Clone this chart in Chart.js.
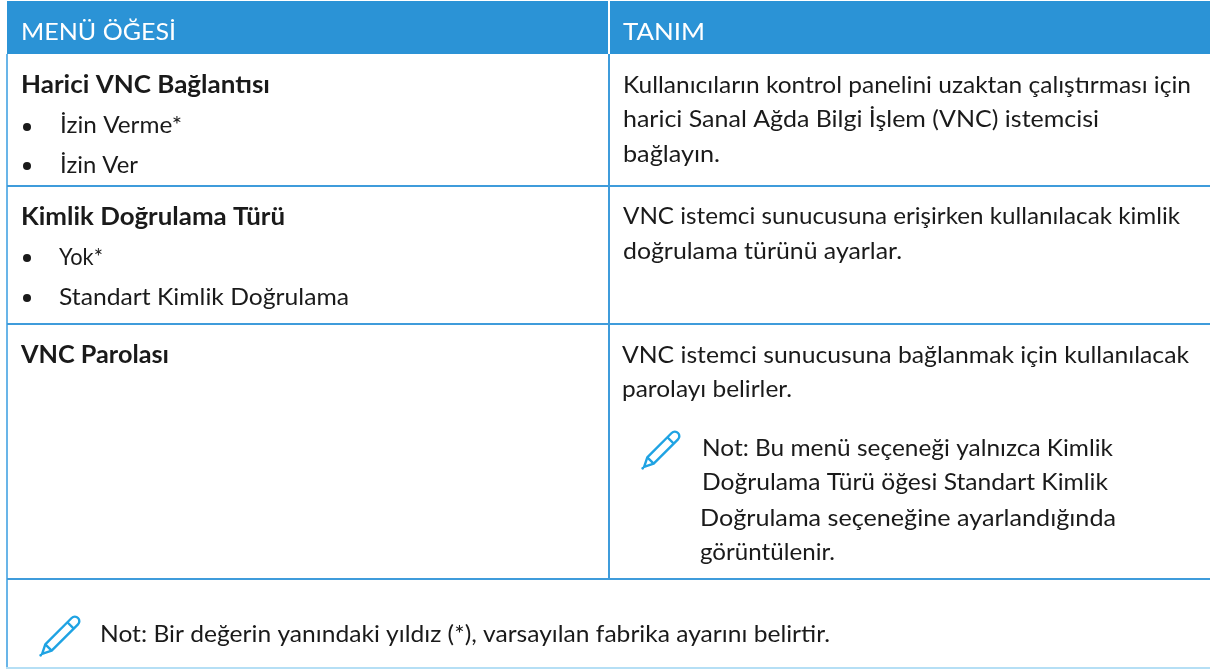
<!DOCTYPE html>
<html lang="tr"><head><meta charset="utf-8">
<script src="https://cdn.jsdelivr.net/npm/chart.js@4"></script>
<style>html,body{margin:0;padding:0;background:#fff;overflow:hidden}canvas{display:block}</style>
</head><body><canvas id="c" width="1210" height="669" style="width:1210px;height:669px"></canvas>
<script>
const headers = ["MENÜ ÖĞESİ", "TANIM"];
const rowTitles = ["Harici VNC Bağlantısı", "Kimlik Doğrulama Türü", "VNC Parolası"];
const rowOptions = [["İzin Verme*", "İzin Ver"], ["Yok*", "Standart Kimlik Doğrulama"], []];
const rowDescriptions = [
  ["Kullanıcıların kontrol panelini uzaktan çalıştırması için", "harici Sanal Ağda Bilgi İşlem (VNC) istemcisi", "bağlayın."],
  ["VNC istemci sunucusuna erişirken kullanılacak kimlik", "doğrulama türünü ayarlar."],
  ["VNC istemci sunucusuna bağlanmak için kullanılacak", "parolayı belirler."]
];
const cellNote = ["Not: Bu menü seçeneği yalnızca Kimlik", "Doğrulama Türü öğesi Standart Kimlik", "Doğrulama seçeneğine ayarlandığında", "görüntülenir."];
const footNote = "Not: Bir değerin yanındaki yıldız (*), varsayılan fabrika ayarını belirtir.";

const FONT = 'Lato';
const SIZE = 24;
function fit(ctx, s, x0, x1, y, color, weight) {
  ctx.save();
  ctx.font = (weight||'400') + ' ' + SIZE + 'px ' + FONT;
  ctx.fillStyle = color; ctx.textBaseline = 'alphabetic';
  const w = ctx.measureText(s).width;
  ctx.translate(x0, y); ctx.scale((x1-x0)/w, 1);
  ctx.fillText(s, 0, 0);
  ctx.restore();
}
function pencil(ctx, tx, ty, hx, hy) {
  const len = Math.hypot(hx-tx, hy-ty);
  ctx.save(); ctx.translate(tx, ty); ctx.rotate(Math.atan2(hy-ty, hx-tx));
  ctx.strokeStyle = '#1fa3e3'; ctx.fillStyle = '#1fa3e3'; ctx.lineWidth = 2.4; ctx.lineJoin='round';
  const r = 4.5, e = len - r;
  ctx.beginPath(); ctx.arc(1,0,1.4,0,7); ctx.fill();
  ctx.beginPath();
  ctx.moveTo(3,0); ctx.lineTo(12,-r); ctx.lineTo(e,-r);
  ctx.arc(e,0,r,-Math.PI/2,Math.PI/2); ctx.lineTo(12,r); ctx.closePath(); ctx.stroke();
  ctx.beginPath(); ctx.moveTo(12,-r); ctx.lineTo(12,r); ctx.moveTo(e-6,-r); ctx.lineTo(e-6,r); ctx.stroke();
  ctx.restore();
}
const tablePlugin = { id:'table', afterDraw(chart){
  const c = chart.ctx; c.save();
  const ink='#1a1a1a', blue='#2b93d6', line='#3f9cdb', edge='#69b5e8';
  c.fillStyle='#fff'; c.fillRect(0,0,1210,669);
  c.fillStyle=blue; c.fillRect(7,1,1203,53);
  c.fillStyle='#fff'; c.fillRect(608,1,2,53);
  fit(c,headers[0],21,176,40,'#fff');
  fit(c,headers[1],623,705,40,'#fff');
  c.fillStyle=edge; c.fillRect(6,54,2,614);
  c.fillStyle=line; c.fillRect(608,54,2,525);
  c.fillRect(7,185,1203,2); c.fillRect(7,323,1203,2); c.fillRect(7,578,1203,2);
  c.fillStyle='#b5dff5'; c.fillRect(6,667,1204,2);

  fit(c,rowTitles[0],21,270,93,ink,'700');
  fit(c,rowTitles[1],21,285,225,ink,'700');
  fit(c,rowTitles[2],21,169,363,ink,'700');
  const bullet=(y)=>{c.fillStyle=ink;c.beginPath();c.arc(27,y,4,0,7);c.fill();};
  bullet(127); fit(c,rowOptions[0][0],60,182,133,ink);
  bullet(166); fit(c,rowOptions[0][1],60,138,173,ink);
  bullet(258); fit(c,rowOptions[1][0],59,103,265,ink);
  bullet(298); fit(c,rowOptions[1][1],59,349,305,ink);

  fit(c,rowDescriptions[0][0],623,1191,93,ink);
  fit(c,rowDescriptions[0][1],623,1099,127,ink);
  fit(c,rowDescriptions[0][2],623,720,162,ink);
  fit(c,rowDescriptions[1][0],623,1180,224,ink);
  fit(c,rowDescriptions[1][1],623,902,259,ink);
  fit(c,rowDescriptions[2][0],622,1189,363,ink);
  fit(c,rowDescriptions[2][1],622,792,397,ink);

  pencil(c,642,469,678,433);
  fit(c,cellNote[0],702,1113,456,ink);
  fit(c,cellNote[1],702,1108,490,ink);
  fit(c,cellNote[2],700,1116,526,ink);
  fit(c,cellNote[3],700,835,560,ink);

  pencil(c,40,656,78,618);
  fit(c,footNote,100,830,642,ink);
  c.restore();
}};
new Chart(document.getElementById('c'),{
  type:'bar', data:{labels:[],datasets:[]},
  options:{responsive:false,animation:false,events:[],layout:{padding:0},
    plugins:{legend:{display:false},tooltip:{enabled:false},title:{display:false}},
    scales:{x:{display:false},y:{display:false}}},
  plugins:[tablePlugin]
});
</script>
</body></html>
